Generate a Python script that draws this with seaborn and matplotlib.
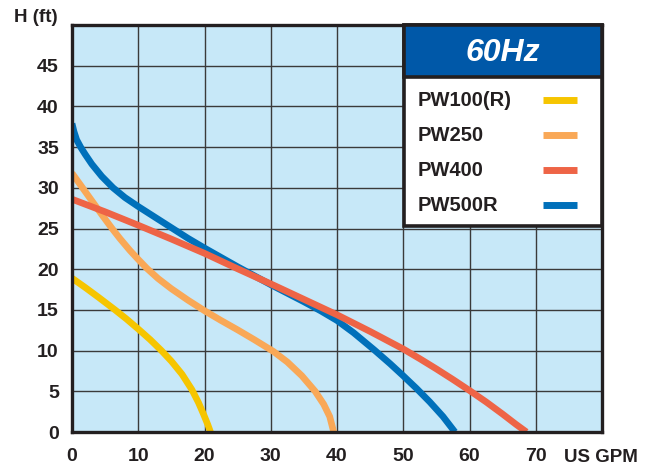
import numpy as np
import pandas as pd
import matplotlib
matplotlib.use("Agg")
import matplotlib.pyplot as plt
from matplotlib.patches import Rectangle
from matplotlib.lines import Line2D
import seaborn as sns

# ---- data ----
pw100_gpm = [0, 2, 4, 6.5, 8.2, 10, 11.8, 13.5, 15, 16.6, 18.1, 19.1, 19.9, 20.5, 20.9]
pw100_h   = [18.9, 17.75, 16.55, 15.0, 13.9, 12.65, 11.35, 10.0, 8.7, 7.1, 5.2, 3.6, 2.1, 0.9, 0]

pw250_gpm = [0, 1.5, 3, 4.5, 6, 7.25, 8.75, 10, 11.3, 13, 15, 17.5, 20.1, 22.5, 25,
             27.5, 30.4, 32.5, 34.7, 36.7, 38, 38.9, 39.5]
pw250_h   = [31.8, 30.1, 28.4, 26.7, 25.05, 23.75, 22.3, 21.2, 20.1, 18.85, 17.6, 16.2, 14.85,
             13.7, 12.55, 11.35, 9.9, 8.6, 6.9, 5.0, 3.4, 1.9, 0]

pw400_gpm = [0, 5, 10, 15, 20, 25, 30, 35, 40, 45, 50, 52.5, 55, 57.5, 60, 62.5, 65, 67, 68.6]
pw400_h   = [28.6, 27.05, 25.4, 23.7, 21.95, 20.05, 18.2, 16.3, 14.4, 12.35, 10.2, 9.0, 7.75,
             6.45, 5.1, 3.7, 2.2, 0.95, 0]

pw500_gpm = [0, 0.3, 0.7, 1.3, 2, 3, 4.5, 6.2, 8, 10, 12.5, 15, 17.5, 20, 22.5, 25, 27.5,
             30, 35, 37.5, 40, 42.5, 45.6, 48, 50, 52, 54, 56, 57.8]
pw500_h   = [37.9, 36.9, 35.9, 35.0, 34.1, 32.9, 31.4, 30.0, 28.8, 27.7, 26.4, 25.1, 23.8,
             22.6, 21.45, 20.3, 19.2, 18.1, 16.0, 14.9, 13.7, 12.2, 10.1, 8.4, 6.9, 5.35,
             3.7, 1.9, 0]

models = ["PW100(R)", "PW250", "PW400", "PW500R"]
colors = {"PW100(R)": "#F6C500", "PW250": "#F9A857", "PW400": "#EE6446", "PW500R": "#0070BA"}

x_ticks = [0, 10, 20, 30, 40, 50, 60, 70]
y_ticks = [0, 5, 10, 15, 20, 25, 30, 35, 40, 45]
x_label = "US GPM"
y_label = "H (ft)"
legend_title = "60Hz"

frames = []
for name, gx, hy in [("PW100(R)", pw100_gpm, pw100_h), ("PW250", pw250_gpm, pw250_h),
                     ("PW400", pw400_gpm, pw400_h), ("PW500R", pw500_gpm, pw500_h)]:
    frames.append(pd.DataFrame({"gpm": gx, "head": hy, "model": name}))
df = pd.concat(frames, ignore_index=True)

# ---- styling ----
sns.set_theme(style="white")
plt.rcParams["font.family"] = ["Liberation Sans", "DejaVu Sans"]
plt.rcParams["font.weight"] = "bold"

dark = "#231F20"
L, R, T, B = 72, 602, 25, 432
fig = plt.figure(figsize=(6.55, 4.65), dpi=100)
ax = fig.add_axes([L/655, (465-B)/465, (R-L)/655, (B-T)/465])
ax.set_facecolor("#C7E8F8")

sns.lineplot(data=df, x="gpm", y="head", hue="model",
             hue_order=["PW100(R)", "PW250", "PW500R", "PW400"],
             palette=colors, estimator=None, sort=False, linewidth=4.8,
             legend=False, ax=ax, zorder=3)
for ln in ax.get_lines():
    ln.set_solid_capstyle("butt")
    ln.set_solid_joinstyle("round")

ax.set_xlim(0, 80)
ax.set_ylim(0, 50)
ax.set_xticks(np.arange(0, 81, 10))
ax.set_yticks(np.arange(0, 51, 5))
ax.set_xticklabels([str(v) if v in x_ticks else "" for v in range(0, 81, 10)])
ax.set_yticklabels([str(v) if v in y_ticks else "" for v in range(0, 51, 5)])
ax.tick_params(axis="both", length=0, labelsize=14, colors=dark)
ax.tick_params(axis="y", pad=9.5)
ax.tick_params(axis="x", pad=11.5)
for lab in ax.get_xticklabels() + ax.get_yticklabels():
    lab.set_fontweight("bold")
ax.grid(True, color="#3A3A3A", linewidth=1.0, zorder=1)
ax.set_axisbelow(True)
for sp in ax.spines.values():
    sp.set_visible(True)
    sp.set_color(dark)
    sp.set_linewidth(2.4)
    sp.set_zorder(6)
ax.set_xlabel("")
ax.set_ylabel("")

def ax_x(px):
    return (px - L) / (R - L)

def ax_y(py):
    return (B - py) / (B - T)

# axis titles
ax.text(ax_x(601), ax_y(457), x_label, transform=ax.transAxes, ha="center", va="center",
        fontsize=13.5, fontweight="bold", color=dark, clip_on=False)
fig.text(58/655, 1 - 18/465, y_label, ha="right", va="center",
         fontsize=13.5, fontweight="bold", color=dark)

# ---- legend box ----
bx0, bx1 = ax_x(403.5), 1.0
by_top, by_bot = 1.0, ax_y(225.5)
hdr_bot = ax_y(76.5)
ax.add_patch(Rectangle((bx0, by_bot), bx1 - bx0, by_top - by_bot, transform=ax.transAxes,
                       facecolor="white", edgecolor=dark, linewidth=2.6, zorder=7, clip_on=False))
ax.add_patch(Rectangle((bx0, hdr_bot), bx1 - bx0, by_top - hdr_bot, transform=ax.transAxes,
                       facecolor="#0058A8", edgecolor=dark, linewidth=2.6, zorder=8, clip_on=False))
ax.text((bx0 + bx1) / 2, ax_y(53), legend_title, transform=ax.transAxes,
        ha="center", va="center", fontsize=23, fontweight="bold", fontstyle="italic",
        color="white", zorder=9)
row_y = [100, 135, 170, 205]
for name, ry in zip(models, row_y):
    yy = ax_y(ry)
    ax.text(ax_x(418), yy, name, transform=ax.transAxes, ha="left", va="center",
            fontsize=14.5, fontweight="bold", color=dark, zorder=9)
    ax.add_line(Line2D([ax_x(543), ax_x(577)], [yy, yy], transform=ax.transAxes,
                       color=colors[name], linewidth=5.0, solid_capstyle="butt", zorder=9))

fig.savefig("out.png", dpi=100)
